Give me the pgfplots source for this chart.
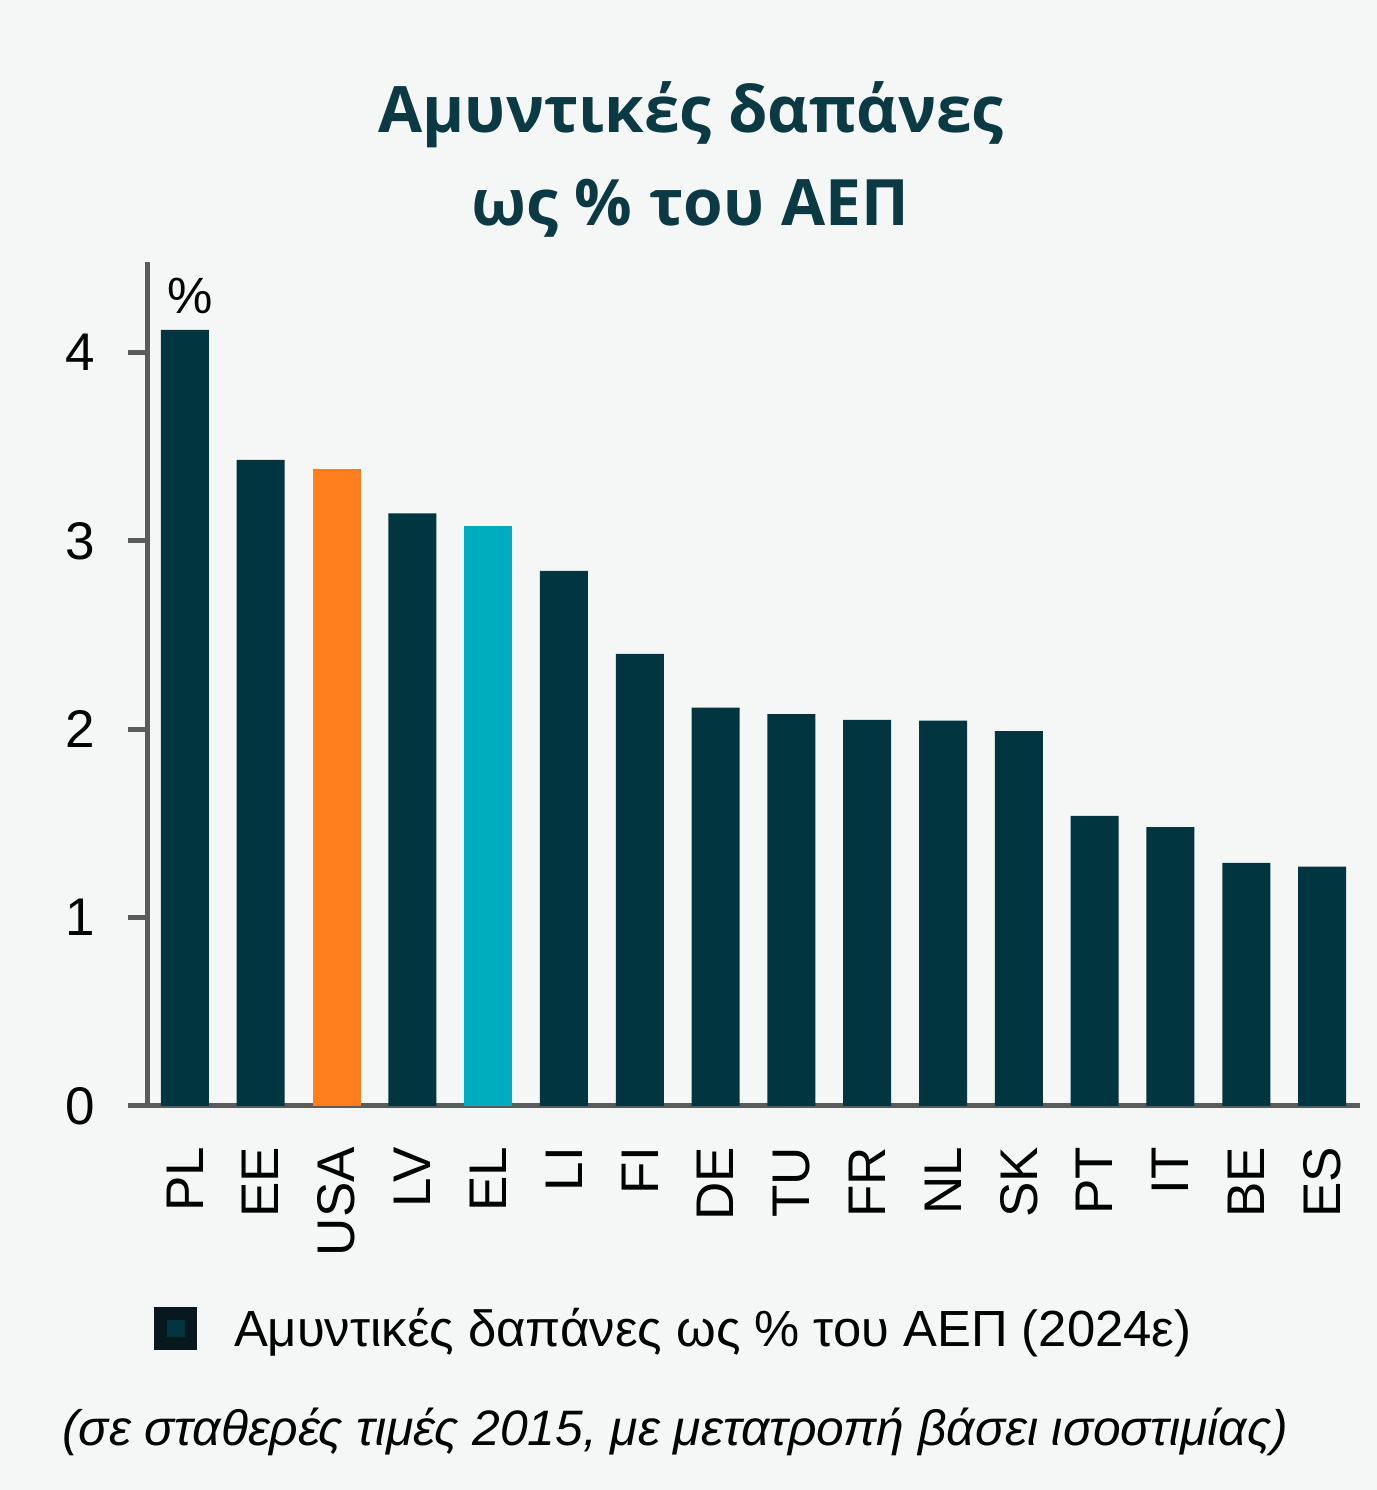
\documentclass[border=0pt]{standalone}
\usepackage{fontspec}
\setmainfont{Liberation Sans}
\newfontfamily\titlefont{Open Sans}
\usepackage{pgfplots}
\pgfplotsset{compat=1.18}
\definecolor{bg}{HTML}{F5F7F7}
\definecolor{dark}{HTML}{013641}
\definecolor{orng}{HTML}{FF7F1E}
\definecolor{cyan2}{HTML}{00ADBE}
\definecolor{axgray}{HTML}{5B5B5B}
\definecolor{titlec}{HTML}{0B3A44}
\definecolor{legout}{HTML}{07181E}
\begin{document}
\begin{tikzpicture}[x=1pt,y=1pt]
\fill[bg] (0,0) rectangle (688.5,745);
\path[use as bounding box] (0,0) rectangle (688.5,745);
\begin{axis}[
  at={(73.5pt,192pt)}, anchor=south west,
  scale only axis, width=606.5pt, height=422pt,
  xmin=-0.5, xmax=15.5, ymin=0, ymax=4.48,
  ybar, bar width=24pt, bar shift=0pt,
  axis x line*=bottom, axis y line*=left,
  axis line style={axgray, line width=2.5pt, -},
  xtick={0,...,15},
  xticklabels={PL,EE,USA,LV,EL,LI,FI,DE,TU,FR,NL,SK,PT,IT,BE,ES},
  x tick style={draw=none},
  ytick={0,1,2,3,4},
  y tick style={axgray, line width=2.5pt},
  tick align=outside, major tick length=9.5pt,
  /pgf/number format/assume math mode=true,
  xticklabel style={rotate=90, anchor=east, font=\fontsize{26.5}{31}\selectfont},
  xticklabel shift=7.5pt,
  yticklabel style={font=\fontsize{26.5}{31}\selectfont},
  yticklabel shift=13pt,
  clip=false,
  legend style={at={(0.0058,-0.2642)}, anchor=west, draw=none, fill=none,
    inner sep=0pt, outer sep=0pt, font=\fontsize{25.4}{30}\selectfont,
    nodes={inner sep=0pt}, column sep=18.5pt},
  legend image code/.code={\fill[legout] (0pt,-10.75pt) rectangle (21.5pt,10.75pt);
     \fill[dark] (6.5pt,-4.25pt) rectangle (15.5pt,4.25pt);},
]
\addplot[fill=dark, draw=none] coordinates {
 (0,4.12) (1,3.43) (3,3.145) (5,2.84) (6,2.40) (7,2.115) (8,2.08) (9,2.05)
 (10,2.045) (11,1.99) (12,1.54) (13,1.48) (14,1.29) (15,1.27)};
\addlegendentry{Αμυντικές δαπάνες ως \% του ΑΕΠ (2024ε)}
\addplot[fill=orng, draw=none, forget plot] coordinates {(2,3.38)};
\addplot[fill=cyan2, draw=none, forget plot] coordinates {(4,3.076)};
\node[font=\fontsize{25.5}{30}\selectfont] at (axis cs:0.07,4.30) {\%};
\end{axis}
\node[titlec, anchor=base, font=\titlefont\bfseries\fontsize{32}{40}\selectfont] at (345.5,678.5) {Αμυντικές δαπάνες};
\node[titlec, anchor=base, font=\titlefont\bfseries\fontsize{32}{40}\selectfont] at (345,632) {ως \% του ΑΕΠ};
\node[anchor=base west, inner sep=0pt, font=\itshape\fontsize{24.9}{29}\selectfont] at (31,22.5) {(σε σταθερές τιμές 2015, με μετατροπή βάσει ισοστιμίας)};
\end{tikzpicture}
\end{document}
